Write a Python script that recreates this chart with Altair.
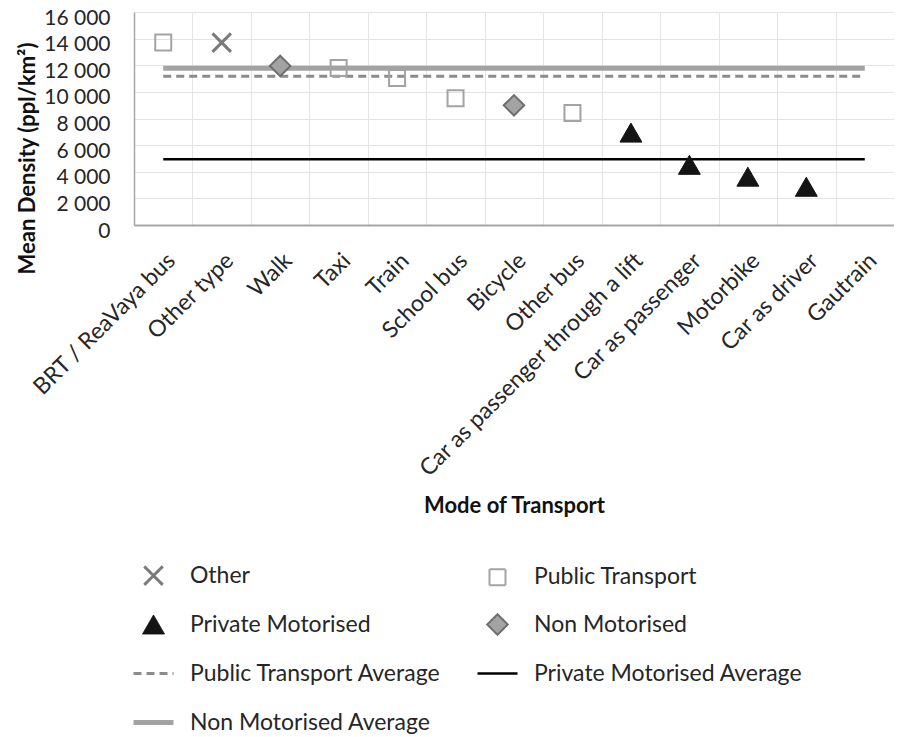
import altair as alt
import pandas as pd

# ---- data ----
modes = ["BRT / ReaVaya bus", "Other type", "Walk", "Taxi", "Train", "School bus",
         "Bicycle", "Other bus", "Car as passenger through a lift", "Car as passenger",
         "Motorbike", "Car as driver", "Gautrain"]
point_modes = ["BRT / ReaVaya bus", "Other type", "Walk", "Taxi", "Train", "School bus",
               "Bicycle", "Other bus", "Car as passenger through a lift", "Car as passenger",
               "Motorbike", "Car as driver"]
point_groups = ["Public Transport", "Other", "Non Motorised", "Public Transport",
                "Public Transport", "Public Transport", "Non Motorised", "Public Transport",
                "Private Motorised", "Private Motorised", "Private Motorised", "Private Motorised"]
point_values = [13700, 13700, 11950, 11800, 11040, 9520, 8990, 8410, 6940, 4520, 3630, 2870]

avg_names = ["Non Motorised Average", "Public Transport Average", "Private Motorised Average"]
avg_values = [11770, 11170, 4930]

series = ["Other", "Public Transport", "Private Motorised", "Non Motorised",
          "Public Transport Average", "Private Motorised Average", "Non Motorised Average"]

y_ticks = [0, 2000, 4000, 6000, 8000, 10000, 12000, 14000, 16000]

# ---- styles ----
FONT = "Lato"
TXT = "#262626"
X_PATH = "M-1,-1L1,1M1,-1L-1,1"
LINE_PATH = "M-4,0L4,0"
shape_range = [X_PATH, "square", "triangle-up", "diamond", LINE_PATH, LINE_PATH, LINE_PATH]
fill_range = ["transparent", "transparent", "#141414", "#a3a3a3",
              "transparent", "transparent", "transparent"]
stroke_range = ["#7a7a7a", "#a3a3a3", "#141414", "#6e6e6e", "#8c8c8c", "#000000", "#a3a3a3"]
dash_range = [[1, 0], [1, 0], [1, 0], [1, 0], [8, 5], [1, 0], [1, 0]]
width_range = [3, 2, 1, 2, 3, 2.5, 5]
size_range = [340, 256, 480, 420, 100, 100, 100]

points = pd.DataFrame({"mode": point_modes, "series": point_groups, "value": point_values})
avgs = pd.DataFrame({"series": avg_names, "value": avg_values,
                     "start": [modes[0]] * 3, "end": [modes[-1]] * 3})

leg = alt.Legend(title=None, orient="none", legendX=8, legendY=552, columns=2,
                 direction="horizontal", gridAlign="all",
                 symbolSize=256, symbolOpacity=1, labelFont=FONT, labelFontSize=23,
                 labelColor=TXT, labelOffset=25, labelLimit=0, rowPadding=19,
                 columnPadding=13, padding=0)

x_axis = alt.Axis(title="Mode of Transport", labelAngle=-45, labelFont=FONT,
                  labelFontSize=23, labelColor=TXT, labelLimit=0, labelPadding=24,
                  ticks=False, tickBand="extent", grid=True, gridColor="#e4e4e4",
                  domainColor="#a6a6a6", domainWidth=2, titleFont=FONT,
                  titleFontSize=22, titleFontWeight="bold", titleColor="#111111",
                  titlePadding=70)
x_scale = alt.Scale(type="band", domain=modes, paddingInner=0, paddingOuter=0)

y_enc = alt.Y("value:Q",
              scale=alt.Scale(domain=[0, 16000], nice=False),
              axis=alt.Axis(title="Mean Density (ppl/km²)", values=y_ticks,
                            labelExpr="replace(format(datum.value, ','), ',', ' ')",
                            labelFont=FONT, labelFontSize=21, labelColor=TXT,
                            labelPadding=24, labelOffset=6, ticks=False, grid=True,
                            gridColor="#e4e4e4", domainColor="#a6a6a6", domainWidth=1.5,
                            titleFont=FONT, titleFontSize=22, titleFontWeight="bold",
                            titleColor="#111111", titlePadding=4, titleY=146))

def sc(rng, kind=None):
    if kind:
        return alt.Scale(type=kind, domain=series, range=rng)
    return alt.Scale(domain=series, range=rng)

rules = alt.Chart(avgs).mark_rule().encode(
    x=alt.X("start:N", scale=x_scale, axis=x_axis, sort=modes, bandPosition=0.5),
    x2=alt.X2("end"),
    y=y_enc,
    stroke=alt.Stroke("series:N", scale=sc(stroke_range), legend=leg),
    strokeDash=alt.StrokeDash("series:N", scale=sc(dash_range), legend=leg),
    strokeWidth=alt.StrokeWidth("series:N", scale=sc(width_range, "ordinal"), legend=leg),
)

pts = alt.Chart(points).mark_point(filled=True, opacity=1).encode(
    x=alt.X("mode:N", scale=x_scale, axis=x_axis, sort=modes),
    y=y_enc,
    shape=alt.Shape("series:N", scale=sc(shape_range), legend=leg),
    fill=alt.Fill("series:N", scale=sc(fill_range), legend=leg),
    stroke=alt.Stroke("series:N", scale=sc(stroke_range), legend=leg),
    strokeWidth=alt.StrokeWidth("series:N", scale=sc(width_range, "ordinal"), legend=leg),
    size=alt.Size("series:N", scale=sc(size_range, "ordinal"), legend=None),
)

chart = alt.layer(rules, pts).properties(
    width=760, height=213,
    padding={"left": 8, "top": -1, "right": 0, "bottom": 0},
).configure_view(stroke=None).configure(font=FONT, background="white")

chart.save("out.html", embed_options={"renderer": "svg", "actions": False})
